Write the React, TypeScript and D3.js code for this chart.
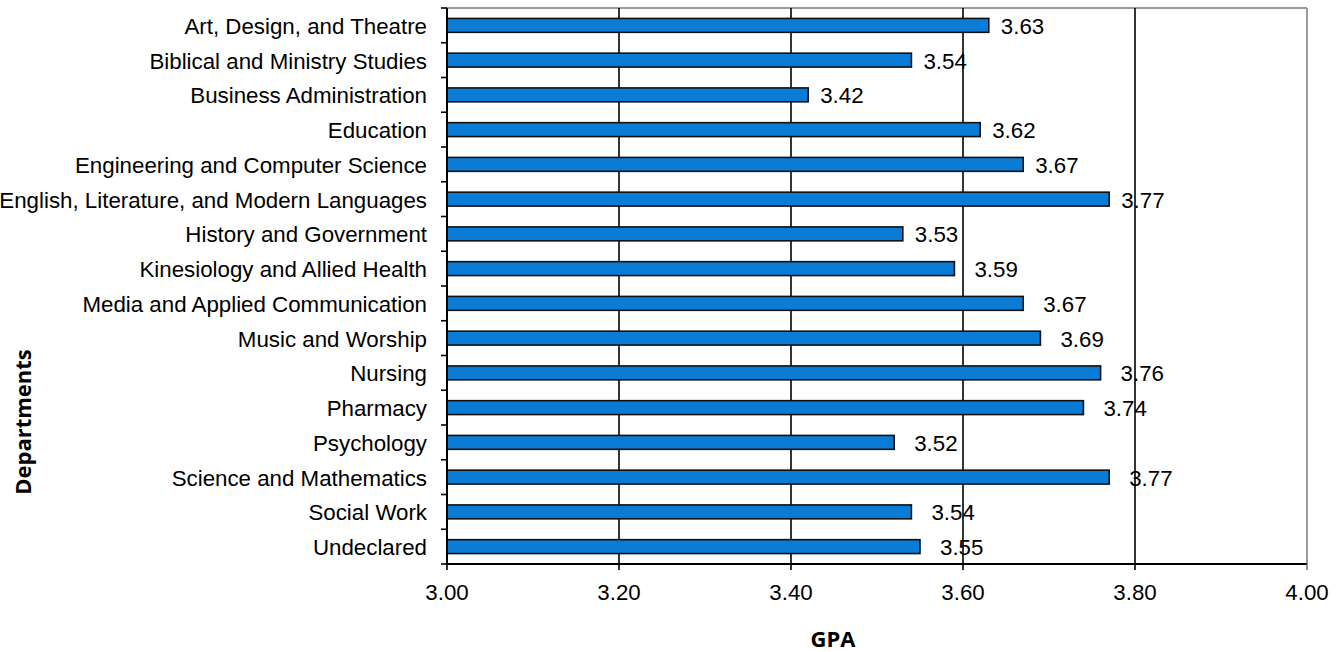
import React from "react";
import * as d3 from "d3";

const categories = [
  "Art, Design, and Theatre",
  "Biblical and Ministry Studies",
  "Business Administration",
  "Education",
  "Engineering and Computer Science",
  "English, Literature, and Modern Languages",
  "History and Government",
  "Kinesiology and Allied Health",
  "Media and Applied Communication",
  "Music and Worship",
  "Nursing",
  "Pharmacy",
  "Psychology",
  "Science and Mathematics",
  "Social Work",
  "Undeclared",
];
const gpa = [3.63, 3.54, 3.42, 3.62, 3.67, 3.77, 3.53, 3.59, 3.67, 3.69, 3.76, 3.74, 3.52, 3.77, 3.54, 3.55];
const xTicks = [3.0, 3.2, 3.4, 3.6, 3.8, 4.0];
const xDomain = [3.0, 4.0];

const W = 1338;
const H = 652;
const left = 447;
const right = 1307;
const top = 8;
const bottom = 564;
const font = "'Liberation Sans', Arial, sans-serif";
const titleFont = "'Open Sans', 'DejaVu Sans', sans-serif";
const fs = 22.3;

export default function App() {
  const x = d3.scaleLinear().domain(xDomain).range([left, right]);
  const y = d3.scaleBand<string>().domain(categories).range([top, bottom]).paddingInner(0.6).paddingOuter(0.3);
  const yb = d3.scaleBand<string>().domain(categories).range([top, bottom]);
  const bw = y.bandwidth();
  const boundaries = d3.range(categories.length + 1).map((i) => top + i * yb.step());

  return (
    <svg width={W} height={H} style={{ position: "absolute", left: 0, top: 0, background: "#fff" }}>
      <line x1={left} x2={right} y1={top} y2={top} stroke="#9a9a9a" strokeWidth={2} />
      <line x1={right} x2={right} y1={top} y2={bottom} stroke="#9a9a9a" strokeWidth={2} />
      {xTicks.slice(1, -1).map((t) => (
        <line key={"g" + t} x1={x(t)} x2={x(t)} y1={top} y2={bottom} stroke="#000" strokeWidth={1.6} />
      ))}
      {categories.map((c, i) => (
        <rect
          key={c}
          x={x(xDomain[0])}
          y={y(c)!}
          width={x(gpa[i]) - x(xDomain[0])}
          height={bw}
          fill="#0a7cd6"
          stroke="#111"
          strokeWidth={1.6}
        />
      ))}
      {categories.map((c, i) => (
        <text
          key={"v" + c}
          x={x(gpa[i]) + (i <= 6 ? 12 : 20)}
          y={y(c)! + bw / 2 + 8.5}
          fontFamily={font}
          fontSize={fs}
          fill="#000"
        >
          {gpa[i].toFixed(2)}
        </text>
      ))}
      <line x1={left} x2={left} y1={top} y2={bottom} stroke="#000" strokeWidth={2} />
      <line x1={left} x2={right} y1={bottom} y2={bottom} stroke="#000" strokeWidth={2} />
      {boundaries.map((b, i) => (
        <line key={"yt" + i} x1={left - 6} x2={left} y1={b} y2={b} stroke="#000" strokeWidth={1.6} />
      ))}
      {xTicks.map((t) => (
        <line key={"xt" + t} x1={x(t)} x2={x(t)} y1={bottom} y2={bottom + 6} stroke={t === 4 ? "#777" : "#000"} strokeWidth={1.6} />
      ))}
      {xTicks.map((t) => (
        <text key={"xl" + t} x={x(t)} y={600} textAnchor="middle" fontFamily={font} fontSize={fs} fill="#000">
          {t.toFixed(2)}
        </text>
      ))}
      {categories.map((c) => (
        <text
          key={"c" + c}
          x={427}
          y={yb(c)! + yb.bandwidth() / 2 + 8.5}
          textAnchor="end"
          fontFamily={font}
          fontSize={fs}
          fill="#000"
        >
          {c}
        </text>
      ))}
      <text x={833} y={647} textAnchor="middle" fontFamily={titleFont} fontWeight={700} fontSize={22} fill="#000">
        GPA
      </text>
      <text
        transform="translate(31,422) rotate(-90)"
        textAnchor="middle"
        fontFamily={titleFont}
        fontWeight={700}
        fontSize={22}
        fill="#000"
      >
        Departments
      </text>
    </svg>
  );
}
